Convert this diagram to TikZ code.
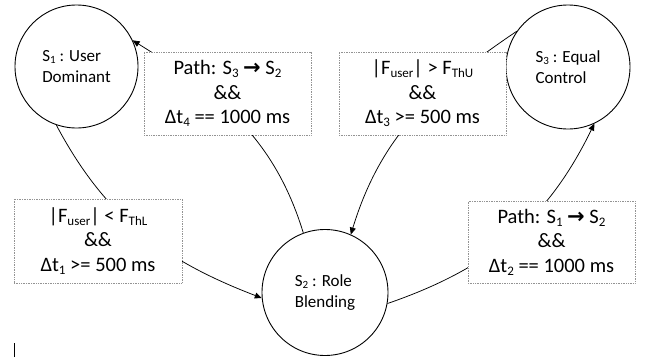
\documentclass[tikz,border=0pt]{standalone}
\usepackage{fontspec}
\setmainfont{Carlito}
\newfontfamily\arrowfont{DejaVu Sans}
\usetikzlibrary{arrows.meta}
\newcommand{\bsub}[1]{\raisebox{-3pt}{\fontsize{13}{13}\selectfont #1}}
\newcommand{\csub}[1]{\raisebox{-2.5pt}{\fontsize{11}{11}\selectfont #1}}
\newcommand{\rarr}{{\arrowfont\bfseries\fontsize{21}{21}\selectfont →}}
\begin{document}
\begin{tikzpicture}[x=1pt,y=1pt,
  state/.style={circle, draw, line width=0.9pt, inner sep=0pt, align=left,
    font=\fontsize{17}{21.5}\selectfont},
  cond/.style={draw=gray!85, densely dotted, line width=0.7pt, fill=white,
    minimum width=167pt, minimum height=83pt, inner sep=0pt, align=center,
    font=\fontsize{20.5}{24.5}\selectfont},
  trans/.style={line width=0.75pt, -{Triangle[length=7pt,width=6pt]}}]
\useasboundingbox (0,0) rectangle (649,360);
\node[state, minimum size=123pt] (s1) at (76.5,293.5) {S\csub{1} : User\\Dominant};
\node[state, minimum size=126pt] (s2) at (325,67.5) {S\csub{2} : Role\\Blending};
\node[state, minimum size=124pt] (s3) at (568,293) {S\csub{3} : Equal\\Control};
% transitions
\draw[trans] (s1.-109) to[out=-62,in=159] (s2.185);
\draw[trans] (s2.-10) to[out=19,in=244] (s3.-65);
\draw[trans] (s3.145) to[out=214,in=73] (s2.66);
\draw[trans] (s2.110) to[out=107,in=-32] (s1.25);
% conditions
\node[cond] (c4) at (227.5,266.5) {Path: S\bsub{3} \rarr{} S\bsub{2}\\\&\&\\Δt\bsub{4} == 1000 ms};
\node[cond] (c3) at (422.5,266.5) {|F\bsub{user}| > F\bsub{ThU}\\\&\&\\Δt\bsub{3} >= 500 ms};
\node[cond, minimum width=168pt, minimum height=84pt] (c1) at (98,119) {|F\bsub{user}| < F\bsub{ThL}\\\&\&\\Δt\bsub{1} >= 500 ms};
\node[cond, minimum height=82pt] (c2) at (551.5,118) {Path: S\bsub{1} \rarr{} S\bsub{2}\\\&\&\\Δt\bsub{2} == 1000 ms};
% stray cursor mark
\draw[line width=0.8pt] (14,3) -- (14,17);
\end{tikzpicture}
\end{document}
